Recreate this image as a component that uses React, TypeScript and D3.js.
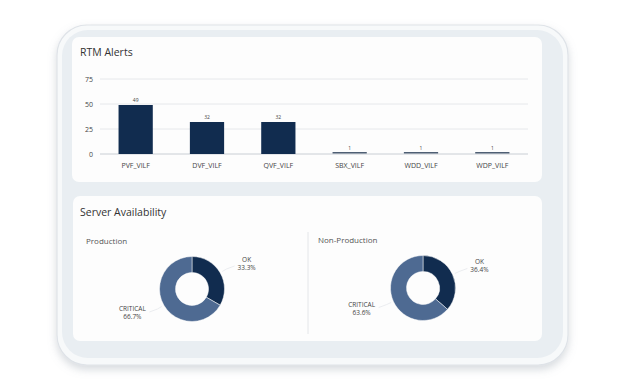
import { useEffect, useRef } from "react"
import * as d3 from "d3"

// RTM alerts per environment
const categories = ["PVF_VILF", "DVF_VILF", "QVF_VILF", "SBX_VILF", "WDD_VILF", "WDP_VILF"]
const alertCounts = [49, 32, 32, 1, 1, 1]
const yTicks = [0, 25, 50, 75]

// server availability donuts
const statusNames = ["OK", "CRITICAL"]
const productionShares = [33.3, 66.7]
const nonProductionShares = [36.4, 63.6]

const FONT = "'Open Sans', 'DejaVu Sans', sans-serif"
const NAVY = "#112c4f"
const SLATE = "#4e6a92"

export default function App() {
    const ref = useRef<SVGSVGElement>(null)

    useEffect(() => {
        const svg = d3.select(ref.current)
        svg.selectAll("*").remove()

        const defs = svg.append("defs")
        const f = defs.append("filter").attr("id", "shadow").attr("x", "-10%").attr("y", "-10%").attr("width", "120%").attr("height", "130%")
        f.append("feDropShadow").attr("dx", 0).attr("dy", 4).attr("stdDeviation", 4).attr("flood-color", "#8a96a3").attr("flood-opacity", 0.35)

        // tablet frame
        svg.append("rect")
            .attr("x", 57).attr("y", 25).attr("width", 511).attr("height", 340)
            .attr("rx", 30)
            .attr("fill", "#f7f9fa")
            .attr("stroke", "#dfe3e8")
            .attr("stroke-width", 1.2)
            .attr("filter", "url(#shadow)")
        svg.append("rect")
            .attr("x", 62).attr("y", 30).attr("width", 501).attr("height", 328)
            .attr("rx", 26)
            .attr("fill", "#e9eef2")

        const panels = [
            { x: 72, y: 37, w: 470, h: 145 },
            { x: 73, y: 196, w: 469, h: 145 },
        ]
        panels.forEach(p => {
            svg.append("rect")
                .attr("x", p.x).attr("y", p.y).attr("width", p.w).attr("height", p.h)
                .attr("rx", 7)
                .attr("fill", "#fdfdfd")
        })

        // ---- bar chart ----
        svg.append("text")
            .attr("x", 80).attr("y", 56)
            .attr("font-family", FONT).attr("font-size", 10.5)
            .attr("fill", "#333")
            .text("RTM Alerts")

        const x = d3.scaleBand<string>()
            .domain(categories)
            .range([100, 528])
            .paddingInner(0.52)
            .paddingOuter(0.26)
        const y = d3.scaleLinear().domain([0, 75]).range([154, 79])

        const g = svg.append("g")
        g.selectAll("line.grid")
            .data(yTicks)
            .join("line")
            .attr("x1", 100).attr("x2", 528)
            .attr("y1", d => y(d)).attr("y2", d => y(d))
            .attr("stroke", d => (d === 0 ? "#c9ced4" : "#e6e8eb"))
            .attr("stroke-width", 1)

        g.selectAll("text.ytick")
            .data(yTicks)
            .join("text")
            .attr("x", 93)
            .attr("y", d => y(d) + 2.5)
            .attr("text-anchor", "end")
            .attr("font-family", FONT).attr("font-size", 7)
            .attr("fill", "#444")
            .text(d => d)

        g.selectAll("rect.bar")
            .data(alertCounts)
            .join("rect")
            .attr("x", (_, i) => x(categories[i])!)
            .attr("width", x.bandwidth())
            .attr("y", d => y(d) - (d < 3 ? 1 : 0))
            .attr("height", d => Math.max(1.5, y(0) - y(d)))
            .attr("fill", d => (d < 3 ? "#4f5f74" : NAVY))

        g.selectAll("text.val")
            .data(alertCounts)
            .join("text")
            .attr("x", (_, i) => x(categories[i])! + x.bandwidth() / 2)
            .attr("y", d => y(d) - 3)
            .attr("text-anchor", "middle")
            .attr("font-family", FONT).attr("font-size", 5)
            .attr("fill", "#444")
            .text(d => d)

        g.selectAll("text.xtick")
            .data(categories)
            .join("text")
            .attr("x", d => x(d)! + x.bandwidth() / 2)
            .attr("y", 168)
            .attr("text-anchor", "middle")
            .attr("font-family", FONT).attr("font-size", 7)
            .attr("fill", "#444")
            .text(d => d)

        // ---- donuts ----
        svg.append("text")
            .attr("x", 80).attr("y", 216)
            .attr("font-family", FONT).attr("font-size", 10.5)
            .attr("fill", "#333")
            .text("Server Availability")

        svg.append("line")
            .attr("x1", 308).attr("x2", 308)
            .attr("y1", 232).attr("y2", 334)
            .attr("stroke", "#e4e6e9")

        const donuts = [
            { title: "Production", tx: 86, ty: 244, cx: 192, cy: 289, shares: productionShares },
            { title: "Non-Production", tx: 318, ty: 243, cx: 423, cy: 288, shares: nonProductionShares },
        ]
        const pie = d3.pie<number>().sort(null).value(d => d)
        const arc = d3.arc<d3.PieArcDatum<number>>().innerRadius(16.5).outerRadius(32.5)
        const colors = [NAVY, SLATE]

        donuts.forEach(dn => {
            svg.append("text")
                .attr("x", dn.tx).attr("y", dn.ty)
                .attr("font-family", FONT).attr("font-size", 8)
                .attr("fill", "#555")
                .text(dn.title)

            const dg = svg.append("g").attr("transform", `translate(${dn.cx},${dn.cy})`)
            const arcs = pie(dn.shares)
            dg.selectAll("path")
                .data(arcs)
                .join("path")
                .attr("d", arc)
                .attr("fill", (_, i) => colors[i])
                .attr("stroke", "#fdfdfd")
                .attr("stroke-width", 0.5)

            arcs.forEach((a, i) => {
                const mid = (a.startAngle + a.endAngle) / 2
                const sx = Math.sin(mid), sy = -Math.cos(mid)
                const p1 = [sx * 35, sy * 35]
                const p2 = [sx * 40, sy * 40]
                const right = sx > 0
                const p3 = [p2[0] + (right ? 8 : -8), p2[1] + (right ? -3 : 3)]
                dg.append("polyline")
                    .attr("points", [p1, p2, p3].map(p => p.join(",")).join(" "))
                    .attr("fill", "none")
                    .attr("stroke", "#e2e5e9")
                    .attr("stroke-width", 0.7)
                const lx = p3[0] + (right ? 12 : -17)
                const ly = p3[1] + (right ? -4 : -1)
                const t = dg.append("text")
                    .attr("x", lx).attr("y", ly)
                    .attr("text-anchor", "middle")
                    .attr("font-family", FONT).attr("font-size", 6.5)
                    .attr("fill", "#444")
                t.append("tspan").attr("x", lx).text(statusNames[i])
                t.append("tspan").attr("x", lx).attr("dy", 8).text(`${d3.format(".1f")(dn.shares[i])}%`)
            })
        })
    }, [])

    return (
        <div style={{ position: "fixed", left: 0, top: 0, width: 625, height: 388, background: "#fff" }}>
            <svg ref={ref} width={625} height={388} />
        </div>
    )
}
